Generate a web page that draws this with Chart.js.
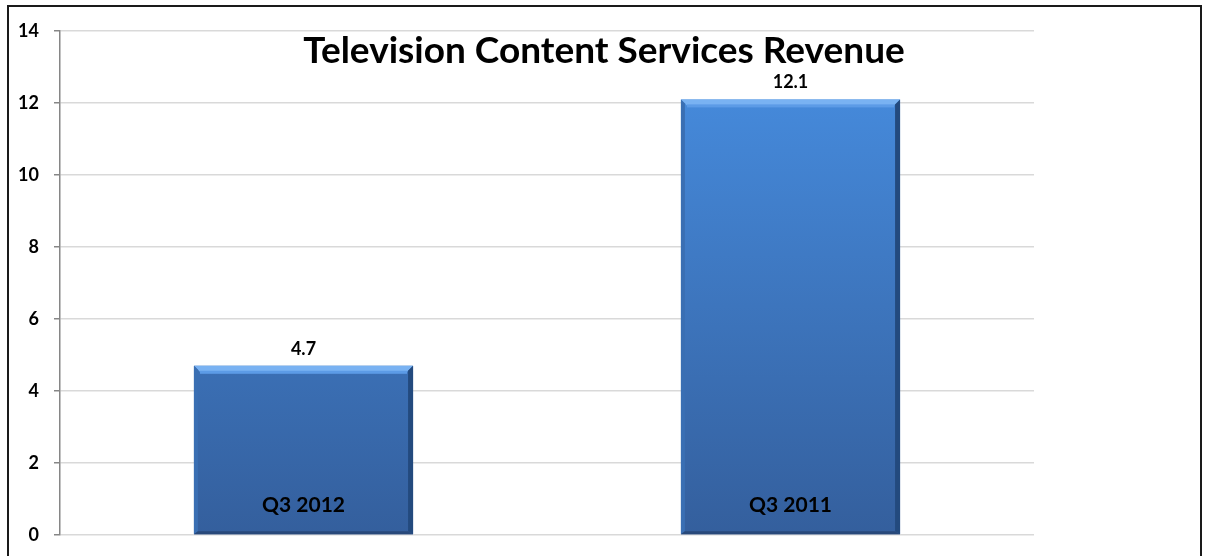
<!DOCTYPE html>
<html>
<head>
<meta charset="utf-8">
<script src="https://cdn.jsdelivr.net/npm/chart.js@4"></script>
<style>
  html, body { margin: 0; padding: 0; background: #fff; }
  #wrap { position: relative; width: 1207px; height: 556px; overflow: hidden; }
  #frame { position: absolute; left: 7px; top: 5px; width: 1195px; height: 560px; border: 2px solid #1a1a1a; box-sizing: border-box; pointer-events: none; }
  canvas { position: absolute; left: 0; top: 0; }
</style>
</head>
<body>
<div id="wrap">
  <canvas id="revChart" width="1207" height="556"></canvas>
  <div id="frame"></div>
</div>
<script>
// Data
const categories = ['Q3 2012', 'Q3 2011'];
const revenue = [4.7, 12.1];
const yTicks = [0, 2, 4, 6, 8, 10, 12, 14];
const chartTitle = 'Television Content Services Revenue';

const FONT = 'Lato, "Open Sans", sans-serif';

// Per-bar vertical gradient + bevel edges
const bevelPlugin = {
  id: 'bevel',
  beforeDatasetsDraw(chart) {
    const ctx = chart.ctx;
    chart.getDatasetMeta(0).data.forEach(bar => {
      const g = ctx.createLinearGradient(0, bar.y, 0, bar.base);
      g.addColorStop(0, '#4589da');
      g.addColorStop(1, '#345f9d');
      bar.options.backgroundColor = g;
    });
  },
  afterDatasetsDraw(chart) {
    const ctx = chart.ctx;
    chart.getDatasetMeta(0).data.forEach(bar => {
      const l = bar.x - bar.width / 2, r = bar.x + bar.width / 2;
      const t = bar.y, b = bar.base;
      ctx.save();
      // top highlight
      ctx.fillStyle = '#79b2f2';
      ctx.beginPath();
      ctx.moveTo(l, t); ctx.lineTo(r, t); ctx.lineTo(r - 6, t + 6); ctx.lineTo(l + 6, t + 6);
      ctx.closePath(); ctx.fill();
      ctx.fillStyle = '#5c9be6';
      ctx.fillRect(l + 6, t + 5, r - l - 12, 3);
      // left edge
      ctx.fillStyle = '#3a6fb3';
      ctx.beginPath();
      ctx.moveTo(l, t); ctx.lineTo(l + 4, t + 4); ctx.lineTo(l + 4, b - 3); ctx.lineTo(l, b);
      ctx.closePath(); ctx.fill();
      // right edge
      ctx.fillStyle = '#234a7e';
      ctx.beginPath();
      ctx.moveTo(r, t); ctx.lineTo(r - 5, t + 5); ctx.lineTo(r - 5, b - 3); ctx.lineTo(r, b);
      ctx.closePath(); ctx.fill();
      // bottom edge
      ctx.fillStyle = '#28497a';
      ctx.beginPath();
      ctx.moveTo(l, b); ctx.lineTo(l + 4, b - 3); ctx.lineTo(r - 5, b - 3); ctx.lineTo(r, b);
      ctx.closePath(); ctx.fill();
      ctx.restore();
    });
  }
};

// Value labels, category labels inside bars, title
const labelsPlugin = {
  id: 'labels',
  afterDraw(chart) {
    const ctx = chart.ctx;
    const meta = chart.getDatasetMeta(0);
    ctx.save();
    ctx.fillStyle = '#000';
    ctx.textAlign = 'center';
    ctx.textBaseline = 'alphabetic';
    meta.data.forEach((bar, i) => {
      ctx.font = 'bold 18px ' + FONT;
      ctx.fillText(revenue[i].toFixed(1), bar.x, bar.y - 11);
      ctx.font = 'bold 21px ' + FONT;
      ctx.fillText(categories[i], bar.x, bar.base - 22);
    });
    ctx.font = 'bold 37px ' + FONT;
    ctx.fillText(chartTitle, 604, 63);
    ctx.restore();
  }
};

new Chart(document.getElementById('revChart'), {
  type: 'bar',
  data: {
    labels: categories,
    datasets: [{
      data: revenue,
      backgroundColor: '#3f7bc8',
      borderWidth: 0,
      barPercentage: 0.45,
      categoryPercentage: 1
    }]
  },
  options: {
    responsive: false,
    animation: false,
    layout: { padding: { top: 31, right: 173, bottom: 21, left: 0 } },
    plugins: { legend: { display: false }, tooltip: { enabled: false }, title: { display: false } },
    scales: {
      x: {
        ticks: { display: false },
        grid: { display: false },
        border: { display: false },
        afterFit(axis) { axis.height = 0; }
      },
      y: {
        min: 0,
        max: 14,
        afterBuildTicks(axis) { axis.ticks = yTicks.map(v => ({ value: v })); },
        afterFit(axis) {
          axis.width = 60;
          axis.paddingTop = 0;
          axis.paddingBottom = 0;
        },
        ticks: {
          color: '#000',
          padding: 15,
          font: { family: FONT, size: 18, weight: 'bold' }
        },
        grid: {
          color: '#d9d9d9',
          lineWidth: 1.5,
          tickLength: 6,
          tickColor: '#868686'
        },
        border: { color: '#868686', width: 1.5 }
      }
    }
  },
  plugins: [bevelPlugin, labelsPlugin]
});
</script>
</body>
</html>
